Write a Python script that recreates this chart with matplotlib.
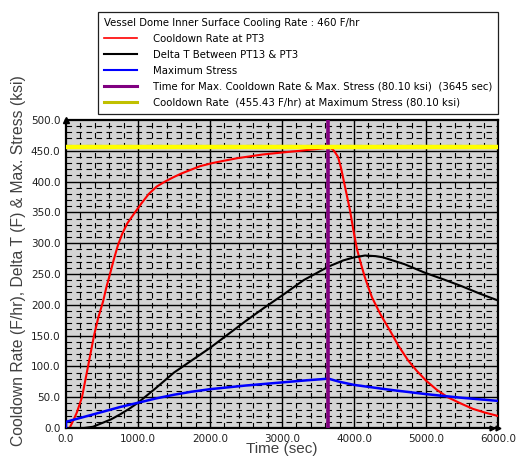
#!/usr/bin/env python

import matplotlib
matplotlib.use('Agg')
import matplotlib.pyplot as plt
from matplotlib.lines import Line2D
import numpy as np

# cooldown rate at PT3 (F/hr)
t_rate = [0, 50, 100, 150, 222, 306, 389, 450, 514, 560, 611, 665, 722, 780,
          850, 958, 1050, 1150, 1260, 1375, 1490, 1600, 1730, 1861, 2030,
          2200, 2380, 2556, 2730, 2900, 3070, 3250, 3400, 3500, 3580, 3645,
          3680, 3708, 3740, 3778, 3820, 3860, 3900, 3945, 3990, 4042, 4100,
          4150, 4200, 4250, 4370, 4500, 4620, 4750, 4870, 5000, 5150, 5300,
          5480, 5653, 5820, 6000]
rate = [0, 0, 12, 25, 50, 100, 150, 180, 205, 228, 250, 274, 297, 315,
        332, 350, 365, 380, 392, 400, 407, 413, 419, 425, 430,
        434, 438, 441, 444, 446, 448, 450, 452, 453, 454, 455.43,
        454, 452, 447, 440, 422, 400, 378, 353, 322, 290, 265,
        245, 228, 212, 184, 158, 133, 110, 93, 77, 62, 50,
        40, 31, 25, 19.5]

# delta T between PT13 and PT3 (F)
t_dt = [0, 250, 375, 500, 625, 750, 875, 1000, 1250, 1500, 1750, 2000, 2250,
        2500, 2750, 3000, 3300, 3645, 3850, 4000, 4153, 4300, 4403, 4700,
        4986, 5250, 5500, 5750, 6000]
delta_t = [0, 0, 2, 8, 14, 22, 31, 41, 65, 90, 110, 130, 152,
           174, 195, 215, 240, 262, 272, 277, 280, 279, 277, 266,
           252, 241, 230, 218, 207]

# maximum stress (ksi)
t_stress = [0, 0, 250, 500, 750, 1000, 1250, 1500, 1750, 2000, 2500, 3000,
            3300, 3645, 3800, 4000, 4500, 5000, 5500, 6000]
stress = [0, 10, 18, 26, 34, 41, 48, 54, 59, 63, 69, 74,
          77, 80.1, 75, 70, 62, 55, 49, 44]

t_max = 3645
rate_at_max = 455.43
stress_max = 80.10
target_rate = 460

labels = ['Cooldown Rate at PT3',
          'Delta T Between PT13 & PT3',
          'Maximum Stress',
          'Time for Max. Cooldown Rate & Max. Stress ({:.2f} ksi)  ({} sec)'.format(stress_max, t_max),
          'Cooldown Rate  ({:.2f} F/hr) at Maximum Stress ({:.2f} ksi)'.format(rate_at_max, stress_max)]

fig = plt.figure(figsize=(5.16, 4.58), dpi=100, facecolor='white')
ax = fig.add_axes([66/516., 1 - 428/458., 432/516., 308/458.])
ax.set_facecolor('#d4d4d4')

# grid: solid major lines, short dashed minor lines
for x in np.arange(200, 6000, 200):
    if x % 1000 == 0:
        ax.axvline(x, color='black', lw=1.0, zorder=1)
    else:
        ax.axvline(x, color='black', lw=0.8, ls=(0, (5, 4)), zorder=1)
for y in np.arange(10, 500, 10):
    if y % 50 == 0:
        ax.axhline(y, color='black', lw=1.0, zorder=1)
    else:
        ax.axhline(y, color='black', lw=0.8, ls=(0, (5, 4)), zorder=1)

ax.plot(t_rate, rate, color='red', lw=1.5, zorder=3)
ax.plot(t_dt, delta_t, color='black', lw=1.5, zorder=3)
ax.plot(t_stress, stress, color='blue', lw=1.8, zorder=3)
ax.axvline(t_max, color='#800080', lw=2.6, zorder=4)
ax.axhline(rate_at_max, color='yellow', lw=3.2, zorder=4)

ax.set_xlim(0, 6000)
ax.set_ylim(0, 500)
ax.set_xticks(np.arange(0, 6001, 1000))
ax.set_yticks(np.arange(0, 501, 50))
ax.xaxis.set_major_formatter(plt.FuncFormatter(lambda v, p: '{:.1f}'.format(v)))
ax.yaxis.set_major_formatter(plt.FuncFormatter(lambda v, p: '{:.1f}'.format(v)))
ax.tick_params(length=0, labelsize=7.5, labelcolor='#202020', pad=4)
for s in ax.spines.values():
    s.set_linewidth(1.6)
    s.set_color('black')

# little axis arrows
ax.plot([0], [1], marker='^', ms=4, color='black', transform=ax.transAxes,
        clip_on=False, zorder=6)
ax.plot([0.985, 1.0], [0, 0], marker='>', ls='none', ms=3.5, color='black',
        transform=ax.transAxes, clip_on=False, zorder=6)

ax.set_xlabel('Time (sec)', family='Liberation Sans', fontsize=11,
              color='#404040', labelpad=-1)
ax.set_ylabel('Cooldown Rate (F/hr), Delta T (F) & Max. Stress (ksi)',
              family='Liberation Sans', fontsize=11.3, color='#404040')
ax.yaxis.set_label_coords(-0.093, 0.545)

handles = [Line2D([], [], color='red', lw=1.2),
           Line2D([], [], color='black', lw=1.5),
           Line2D([], [], color='blue', lw=1.5),
           Line2D([], [], color='#800080', lw=2.2),
           Line2D([], [], color='#c0c000', lw=2.2)]
leg = fig.legend(handles, labels,
                 title='Vessel Dome Inner Surface Cooling Rate : {} F/hr'.format(target_rate),
                 loc='upper left', bbox_to_anchor=(98/516., 1 - 12/458.),
                 prop={'size': 7.3}, title_fontsize=7.3, alignment='left',
                 frameon=True, fancybox=False, framealpha=1,
                 edgecolor='#202020', handlelength=3.2, handletextpad=1.6,
                 labelspacing=0.58, borderpad=0.6, borderaxespad=0)
leg.get_frame().set_linewidth(0.9)

fig.savefig('out.png', dpi=100, facecolor='white')
